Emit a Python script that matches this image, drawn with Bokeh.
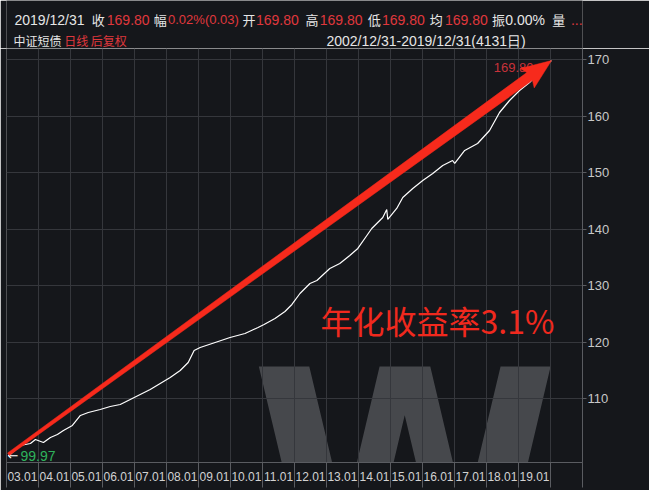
from bokeh.plotting import figure
from bokeh.models import Label, FixedTicker, LinearAxis, Range1d, Grid
from bokeh.layouts import column
from bokeh.embed import file_html
from bokeh.resources import INLINE

# ---------------- data ----------------
# trading-day index since 2002/12/31 and back-adjusted close of 中证短债
day_index = [0, 91, 167, 205, 266, 319, 372, 418, 486, 547,
             607, 698, 774, 850, 911, 1002, 1078, 1154, 1230, 1306,
             1367, 1412, 1458, 1572, 1685, 1799, 1898, 1944, 2027, 2103,
             2156, 2217, 2293, 2346, 2444, 2520, 2596, 2657, 2726, 2763,
             2847, 2877, 2885, 2953, 2999, 3075, 3151, 3227, 3303, 3378,
             3394, 3470, 3568, 3659, 3735, 3811, 3887, 3963, 4039, 4092,
             4130]
close_values = [99.97, 101.78, 102.13, 102.84, 102.31, 103.19, 103.72, 104.43, 105.31, 107.08,
                107.61, 108.14, 108.67, 109.02, 109.73, 110.79, 111.67, 112.74, 113.80, 115.03,
                116.45, 118.57, 119.10, 119.98, 120.87, 121.57, 122.63, 123.16, 124.22, 125.46,
                126.70, 128.64, 130.41, 130.94, 133.06, 133.94, 135.36, 136.60, 138.89, 140.13,
                142.07, 143.49, 141.72, 143.67, 145.61, 147.20, 148.61, 149.85, 151.27, 152.15,
                151.62, 153.92, 155.15, 157.45, 160.63, 162.75, 164.52, 165.93, 167.70, 169.12,
                169.80]

# year boundaries (trading-day index) and their labels
year_bounds = [-15, 228, 472, 715, 959, 1202, 1445, 1689, 1932, 2176,
               2419, 2662, 2906, 3149, 3393, 3636, 3879, 4123, 4366]
year_labels = ["03.01", "04.01", "05.01", "06.01", "07.01", "08.01", "09.01", "10.01",
               "11.01", "12.01", "13.01", "14.01", "15.01", "16.01", "17.01", "18.01", "19.01"]
y_ticks = [110, 120, 130, 140, 150, 160, 170]

header_row1 = [("2019/12/31", "w"), ("收", "w"), ("169.80", "r"), ("幅", "w"),
               ("0.02%(0.03)", "r"), ("开", "w"), ("169.80", "r"), ("高", "w"),
               ("169.80", "r"), ("低", "w"), ("169.80", "r"), ("均", "w"),
               ("169.80", "r"), ("振", "w"), ("0.00%", "w"), ("量", "w"), ("...", "r")]
header_row1_x = [9, 96, 113, 166, 182, 266, 281, 337, 353, 407, 423, 477, 494, 547, 562, 615, 636]
header_row2 = [("中证短债", "w"), ("日线", "r"), ("后复权", "r")]
header_row2_x = [8, 65, 95]
range_text = "2002/12/31-2019/12/31(4131日)"
annual_text = "年化收益率3.1%"
watermark_text = "W"

# ---------------- style ----------------
BG = "#15171b"
GRID = "#35373c"
AXIS = "#5a5c61"
WHITE = "#e6e6e6"
HRED = "#e0383d"
RED = "#f72a1c"
CJK = "Noto Sans CJK SC"
LAT = "Liberation Sans"

W = 649
HH = 48                 # header height
H = 490 - HH            # main chart height
LB, RB, TB, BB = 6, 67, 0, 28
FW, FH = W - LB - RB, H - TB - BB
X0, X1 = -15, 4366
Y0, Y1 = 98.77, 171.94

# ---------------- header strip ----------------
hdr = figure(width=W, height=HH, output_backend="svg", toolbar_location=None,
             x_range=Range1d(0, W), y_range=Range1d(HH, 0),
             x_axis_location=None, y_axis_location=None,
             min_border=0, background_fill_color=BG, border_fill_color=BG,
             outline_line_color=None)
hdr.center = [r for r in hdr.center if not isinstance(r, Grid)]


def is_cjk(s):
    return any(ord(c) > 0x2E80 for c in s)


def hfont(t):
    if is_cjk(t):
        return CJK, "13px"
    if "(" in t:
        return LAT, "13px"
    return LAT, "14px"


for (t, c), x in zip(header_row1, header_row1_x):
    f, s = hfont(t)
    hdr.add_layout(Label(x=x, y=19, text=t, text_align="left", text_baseline="middle",
                         text_color=HRED if c == "r" else WHITE,
                         text_font=f, text_font_size=s))
for (t, c), x in zip(header_row2, header_row2_x):
    hdr.add_layout(Label(x=x, y=40, text=t, text_align="left", text_baseline="middle",
                         text_color=HRED if c == "r" else WHITE,
                         text_font=CJK, text_font_size="12px"))
hdr.add_layout(Label(x=585, y=40, text=range_text, text_align="right", text_baseline="middle",
                     text_color=WHITE, text_font=LAT, text_font_size="14px"))

# ---------------- main chart ----------------
p = figure(width=W, height=H, output_backend="svg", toolbar_location=None,
           x_range=Range1d(X0, X1), y_range=Range1d(Y0, Y1),
           x_axis_location=None, y_axis_location=None,
           min_border_left=LB, min_border_right=RB, min_border_top=TB, min_border_bottom=BB,
           background_fill_color=BG, border_fill_color=BG, outline_line_color=None)
p.center = [r for r in p.center if not isinstance(r, Grid)]

# watermark (under the grid)
wm = Label(x=244, y=-174, x_units="screen", y_units="screen", text=watermark_text,
           text_font="DejaVu Sans", text_font_style="bold", text_font_size="280px",
           text_color="#46484c", level="underlay")
p.add_layout(wm)

p.add_layout(Grid(dimension=0, ticker=FixedTicker(ticks=year_bounds),
                  grid_line_color=GRID, grid_line_width=1))
p.add_layout(Grid(dimension=1, ticker=FixedTicker(ticks=y_ticks),
                  grid_line_color=GRID, grid_line_width=1))

# bottom axis: labels centered in each year slot, separators as minor ticks
centers = [(year_bounds[k] + year_bounds[k + 1]) // 2 for k in range(len(year_labels))]
xaxis = LinearAxis(ticker=FixedTicker(ticks=centers, minor_ticks=year_bounds),
                   major_label_overrides={c: t for c, t in zip(centers, year_labels)})
xaxis.major_tick_line_color = None
xaxis.major_tick_out = 0
xaxis.major_tick_in = 0
xaxis.minor_tick_out = 25
xaxis.minor_tick_in = 0
xaxis.minor_tick_line_color = AXIS
xaxis.axis_line_color = AXIS
xaxis.major_label_text_color = "#d2d2d2"
xaxis.major_label_text_font = LAT
xaxis.major_label_text_font_size = "12px"
xaxis.major_label_standoff = -16
p.add_layout(xaxis, "below")

yaxis = LinearAxis(ticker=FixedTicker(ticks=y_ticks))
yaxis.major_tick_out = 4
yaxis.major_tick_in = 0
yaxis.minor_tick_line_color = None
yaxis.major_tick_line_color = AXIS
yaxis.axis_line_color = AXIS
yaxis.major_label_text_color = "#c8c8c8"
yaxis.major_label_text_font = LAT
yaxis.major_label_text_font_size = "13px"
yaxis.major_label_standoff = 1
p.add_layout(yaxis, "right")

# price line
p.line(day_index, close_values, line_color="white", line_width=1.2)

# red tapered arrow from first to last close (computed in screen px, mapped back to data)
sxs = FW / (X1 - X0)
sys_ = FH / (Y1 - Y0)
tx, ty = (day_index[0] - X0) * sxs, (close_values[0] - Y0) * sys_ + 1.5
hx, hy = (day_index[-1] - X0) * sxs, (close_values[-1] - Y0) * sys_
dx, dy = hx - tx, hy - ty
L = (dx * dx + dy * dy) ** 0.5
ux, uy = dx / L, dy / L
nx, ny = -uy, ux


def pt(a, w):
    return (tx + ux * a + nx * w, ty + uy * a + ny * w)


poly = [pt(0, 1.5), pt(L - 27, 4.8), pt(L - 30, 12), (hx, hy), pt(L - 30, -12), pt(L - 27, -4.8), pt(0, -1.5)]
ax = [X0 + sx / sxs for sx, sy in poly]
ay = [Y0 + sy / sys_ for sx, sy in poly]

p.add_layout(Label(x=day_index[-1], y=close_values[-1], x_offset=-18, y_offset=-7,
                   text=f"{close_values[-1]:.2f}", text_align="right", text_baseline="middle",
                   text_color="#c8323a", text_font=LAT, text_font_size="13px"))
p.patch(ax, ay, fill_color=RED, line_color=RED, line_width=0.5, level="overlay")

# start marker
p.add_layout(Label(x=day_index[0], y=close_values[0], x_offset=-1, y_offset=0, text="←",
                   text_align="left", text_baseline="middle", text_color="white",
                   text_font="DejaVu Sans", text_font_size="13px"))
p.add_layout(Label(x=day_index[0], y=close_values[0], x_offset=12, y_offset=0,
                   text=f"{close_values[0]:.2f}", text_align="left", text_baseline="middle",
                   text_color="#2fb35c", text_font=LAT, text_font_size="14px"))

# annual return text
p.add_layout(Label(x=314, y=143, x_units="screen", y_units="screen", text=annual_text,
                   text_align="left", text_baseline="middle", text_color="#f0291e",
                   text_font=CJK, text_font_size="32px"))

layout = column(hdr, p, spacing=0)
open("out.html", "w").write(file_html(layout, INLINE))
